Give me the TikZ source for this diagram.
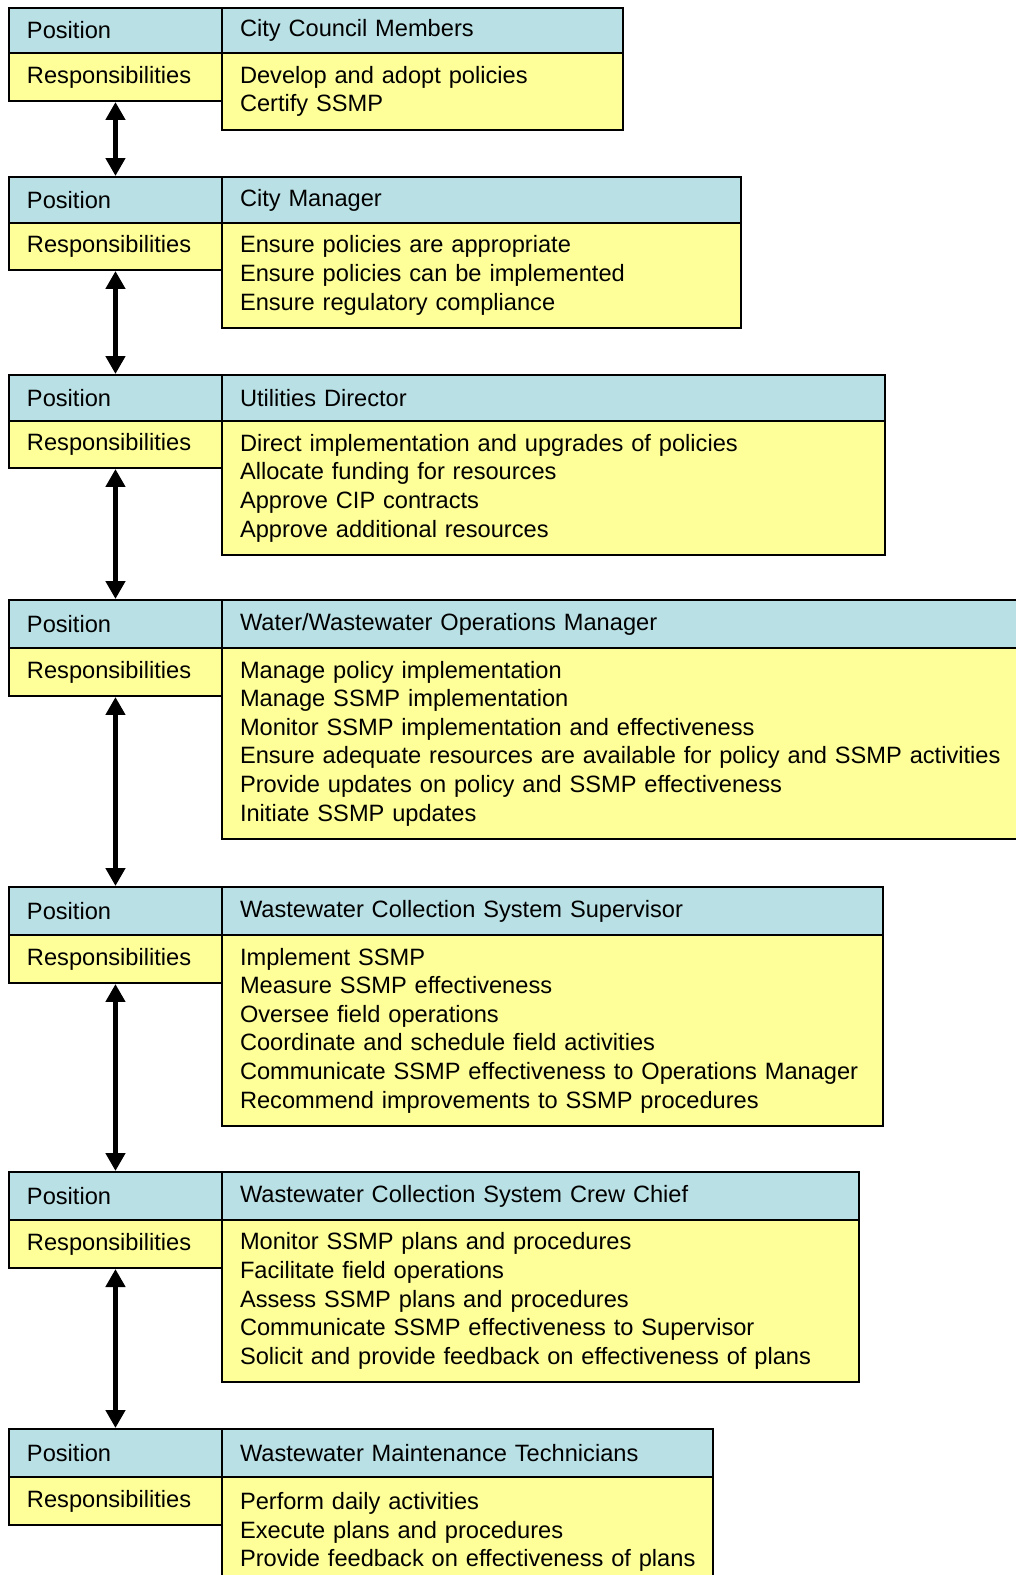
\documentclass[tikz,border=0pt]{standalone}
\usepackage{fontspec}
\setmainfont{Liberation Sans}
\usetikzlibrary{arrows.meta}
\definecolor{hdrblue}{RGB}{185,224,228}
\definecolor{bodyyellow}{RGB}{255,255,153}
\begin{document}
\begin{tikzpicture}[x=0.02cm, y=-0.02cm,
    every node/.style={font=\fontsize{13.45pt}{16.3pt}\selectfont},
    cell/.style={draw, line width=0.04cm, anchor=north west, inner xsep=0.36cm, inner ysep=0pt, align=left,
      execute at begin node={\rightskip=0pt plus 1fil minus 0.35cm}},
    lcell/.style={cell, minimum width=4.26cm, text width=3.54cm},
    hdr/.style={cell, fill=hdrblue},
    bdy/.style={cell, fill=bodyyellow},
    link/.style={{Triangle[width=0.38cm,length=0.36cm]}-{Triangle[width=0.38cm,length=0.36cm]}, line width=0.11cm}]
  \useasboundingbox (0,0) rectangle (1016,1575);
  \clip (0,0) rectangle (1016,1575);
  % City Council Members
  \node[lcell, hdr, minimum height=0.90cm] (p1) at (8,7) {Position};
  \node[lcell, bdy, minimum height=0.96cm] (r1) at (8,52) {Responsibilities};
  \node[hdr, minimum width=8.02cm, text width=7.30cm, minimum height=0.90cm] (t1) at (221,7) {City Council Members};
  \node[bdy, minimum width=8.02cm, text width=7.30cm, minimum height=1.54cm] (b1) at (221,52)
    {Develop and adopt policies\\Certify SSMP};
  % City Manager
  \node[lcell, hdr, minimum height=0.92cm] (p2) at (8,176) {Position};
  \node[lcell, bdy, minimum height=0.94cm] (r2) at (8,222) {Responsibilities};
  \node[hdr, minimum width=10.38cm, text width=9.66cm, minimum height=0.92cm] (t2) at (221,176) {City Manager};
  \node[bdy, minimum width=10.38cm, text width=9.66cm, minimum height=2.10cm] (b2) at (221,222)
    {Ensure policies are appropriate\\Ensure policies can be implemented\\Ensure regulatory compliance};
  % Utilities Director
  \node[lcell, hdr, minimum height=0.92cm] (p3) at (8,374) {Position};
  \node[lcell, bdy, minimum height=0.94cm] (r3) at (8,420) {Responsibilities};
  \node[hdr, minimum width=13.26cm, text width=12.54cm, minimum height=0.92cm] (t3) at (221,374) {Utilities Director};
  \node[bdy, minimum width=13.26cm, text width=12.54cm, minimum height=2.68cm] (b3) at (221,420)
    {Direct implementation and upgrades of policies\\Allocate funding for resources\\Approve CIP contracts\\Approve additional resources};
  % Water/Wastewater Operations Manager
  \node[lcell, hdr, minimum height=0.96cm] (p4) at (8,599) {Position};
  \node[lcell, bdy, minimum height=0.96cm] (r4) at (8,647) {Responsibilities};
  \node[hdr, minimum width=16.2cm, text width=15.48cm, minimum height=0.96cm] (t4) at (221,599) {Water/Wastewater Operations Manager};
  \node[bdy, minimum width=16.2cm, text width=15.48cm, minimum height=3.82cm] (b4) at (221,647)
    {Manage policy implementation\\Manage SSMP implementation\\Monitor SSMP implementation and effectiveness\\Ensure adequate resources are available for policy and SSMP activities\\Provide updates on policy and SSMP effectiveness\\Initiate SSMP updates};
  % Wastewater Collection System Supervisor
  \node[lcell, hdr, minimum height=0.96cm] (p5) at (8,886) {Position};
  \node[lcell, bdy, minimum height=0.96cm] (r5) at (8,934) {Responsibilities};
  \node[hdr, minimum width=13.22cm, text width=12.50cm, minimum height=0.96cm] (t5) at (221,886) {Wastewater Collection System Supervisor};
  \node[bdy, minimum width=13.22cm, text width=12.50cm, minimum height=3.82cm] (b5) at (221,934)
    {Implement SSMP\\Measure SSMP effectiveness\\Oversee field operations\\Coordinate and schedule field activities\\Communicate SSMP effectiveness to Operations Manager\\Recommend improvements to SSMP procedures};
  % Wastewater Collection System Crew Chief
  \node[lcell, hdr, minimum height=0.96cm] (p6) at (8,1171) {Position};
  \node[lcell, bdy, minimum height=0.96cm] (r6) at (8,1219) {Responsibilities};
  \node[hdr, minimum width=12.74cm, text width=12.02cm, minimum height=0.96cm] (t6) at (221,1171) {Wastewater Collection System Crew Chief};
  \node[bdy, minimum width=12.74cm, text width=12.02cm, minimum height=3.24cm] (b6) at (221,1219)
    {Monitor SSMP plans and procedures\\Facilitate field operations\\Assess SSMP plans and procedures\\Communicate SSMP effectiveness to Supervisor\\Solicit and provide feedback on effectiveness of plans};
  % Wastewater Maintenance Technicians
  \node[lcell, hdr, minimum height=0.96cm] (p7) at (8,1428) {Position};
  \node[lcell, bdy, minimum height=0.96cm] (r7) at (8,1476) {Responsibilities};
  \node[hdr, minimum width=9.82cm, text width=9.10cm, minimum height=0.96cm] (t7) at (221,1428) {Wastewater Maintenance Technicians};
  \node[bdy, minimum width=9.82cm, text width=9.10cm, minimum height=2.2cm] (b7) at (221,1476)
    {Perform daily activities\\Execute plans and procedures\\Provide feedback on effectiveness of plans};
  % links between levels
  \draw[link] (r1.south) -- (p2.north);
  \draw[link] (r2.south) -- (p3.north);
  \draw[link] (r3.south) -- (p4.north);
  \draw[link] (r4.south) -- (p5.north);
  \draw[link] (r5.south) -- (p6.north);
  \draw[link] (r6.south) -- (p7.north);
\end{tikzpicture}
\end{document}
